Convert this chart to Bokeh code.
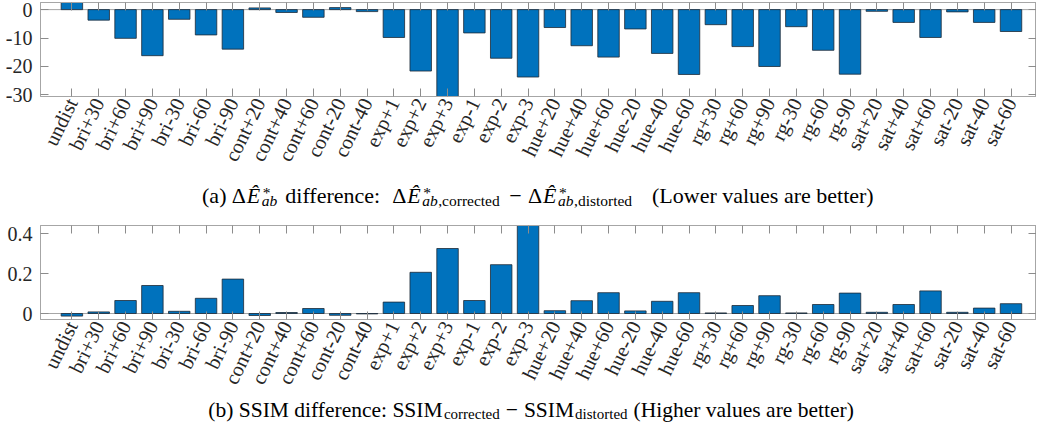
import math
from bokeh.plotting import figure
from bokeh.models import Range1d, FixedTicker, LinearAxis, Span
from bokeh.layouts import column
from bokeh.core.properties import value
from bokeh.embed import file_html
from bokeh.resources import INLINE

categories = ["undist", "bri+30", "bri+60", "bri+90", "bri-30", "bri-60", "bri-90",
              "cont+20", "cont+40", "cont+60", "cont-20", "cont-40",
              "exp+1", "exp+2", "exp+3", "exp-1", "exp-2", "exp-3",
              "hue+20", "hue+40", "hue+60", "hue-20", "hue-40", "hue-60",
              "rg+30", "rg+60", "rg+90", "rg-30", "rg-60", "rg-90",
              "sat+20", "sat+40", "sat+60", "sat-20", "sat-40", "sat-60"]

delta_e_diff = [2.7, -3.7, -10.1, -16.2, -3.4, -8.9, -13.9,
                0.6, -1.0, -2.7, 0.7, -0.7,
                -9.8, -21.6, -31.0, -8.2, -17.1, -23.7,
                -6.3, -12.7, -16.7, -6.8, -15.4, -22.8,
                -5.3, -13.0, -20.0, -6.0, -14.3, -22.7,
                -0.6, -4.5, -9.8, -0.8, -4.5, -7.7]

ssim_diff = [-0.013, 0.008, 0.065, 0.140, 0.011, 0.076, 0.172,
             -0.010, 0.005, 0.025, -0.009, -0.002,
             0.057, 0.206, 0.325, 0.065, 0.244, 0.46,
             0.014, 0.064, 0.104, 0.013, 0.061, 0.104,
             0.003, 0.040, 0.089, 0.003, 0.045, 0.102,
             0.006, 0.045, 0.113, 0.006, 0.027, 0.049]

de_ticks = [-30, -20, -10, 0]
de_tick_labels = ["-30", "-20", "-10", "0"]
ssim_ticks = [0, 0.2, 0.4]
ssim_tick_labels = ["0", "0.2", "0.4"]

FONT = "Liberation Serif"
BAR = "#0072BD"
EDGE = "#1e2a36"
FRAME = "#a6a6a6"
TICK = "#8c8c8c"
LABEL = "#262626"
W = 1036
LEFT = 40
LABEL_ANGLE = math.radians(64)


def hidden_axis(ticks):
    return LinearAxis(ticker=FixedTicker(ticks=ticks), major_label_text_font_size="1px",
                      major_label_text_color=None, major_label_standoff=0,
                      major_tick_in=8, major_tick_out=0, minor_tick_line_color=None,
                      major_tick_line_color=TICK, axis_line_color=FRAME)


def panel(vals, yrange, ticks, tick_labels, height, border_top, border_bottom):
    xs = list(range(len(categories)))
    p = figure(width=W, height=height, x_range=Range1d(-1.17, 35.95),
               y_range=Range1d(*yrange), toolbar_location=None, tools="",
               output_backend="svg", min_border_left=LEFT, min_border_right=0,
               min_border_top=border_top, min_border_bottom=border_bottom)
    p.grid.visible = False
    p.outline_line_color = FRAME
    p.outline_line_width = 1
    p.add_layout(Span(location=0, dimension="width", line_color=FRAME,
                      line_width=1, level="underlay"))
    p.vbar(x=xs, top=vals, bottom=0, width=0.8, fill_color=BAR,
           line_color=EDGE, line_width=0.8)

    xa = p.xaxis[0]
    xa.ticker = FixedTicker(ticks=xs)
    xa.major_label_overrides = {i: c for i, c in enumerate(categories)}
    xa.major_label_orientation = LABEL_ANGLE
    xa.major_label_text_font = FONT
    xa.major_label_text_font_size = "20.5px"
    xa.major_label_text_color = LABEL
    xa.major_label_standoff = 3
    xa.major_tick_in = 8
    xa.major_tick_out = 0
    xa.minor_tick_line_color = None
    xa.major_tick_line_color = TICK
    xa.axis_line_color = FRAME

    ya = p.yaxis[0]
    ya.ticker = FixedTicker(ticks=ticks)
    ya.major_label_overrides = {t: l for t, l in zip(ticks, tick_labels)}
    ya.major_label_text_font = FONT
    ya.major_label_text_font_size = "20px"
    ya.major_label_text_color = LABEL
    ya.major_label_standoff = 8
    ya.major_tick_in = 8
    ya.major_tick_out = 0
    ya.minor_tick_line_color = None
    ya.major_tick_line_color = TICK
    ya.axis_line_color = FRAME

    p.add_layout(hidden_axis(xs), "above")
    p.add_layout(hidden_axis(ticks), "right")
    return p


# Times / Liberation Serif advance widths (per 1000 em)
AFM = {' ': 250, '(': 333, ')': 333, '*': 500, '+': 564, ',': 250, '-': 333, '.': 250,
       ':': 278, '\u2212': 564, '\u0394': 612, '\u00ca': 611,
       'A': 722, 'B': 667, 'C': 667, 'D': 722, 'E': 611, 'H': 722, 'I': 333, 'L': 611,
       'M': 889, 'S': 556,
       'a': 444, 'b': 500, 'c': 444, 'd': 500, 'e': 444, 'f': 333, 'g': 500, 'h': 500,
       'i': 278, 'l': 278, 'n': 500, 'o': 500, 'r': 333, 's': 389, 't': 278, 'u': 500,
       'v': 500, 'w': 722}
AFM_IT = {'a': 500, 'b': 500}


def tw(s, size, italic=False):
    tab = dict(AFM)
    if italic:
        tab.update(AFM_IT)
    return sum(tab.get(ch, 500) for ch in s) * size / 1000.0


def mapx(xref):
    # reference frame 45..1050 -> this frame LEFT..W (picture pixels)
    return LEFT + (xref - 45) * (W - LEFT) / 1005.0


def caption_fig(height, pieces):
    # frame aligned with the panels' frames, data x == picture x
    c = figure(width=W, height=height, x_range=Range1d(LEFT, W), y_range=Range1d(0, height),
               toolbar_location=None, tools="", output_backend="svg",
               x_axis_location=None, y_axis_location=None, min_border=0,
               min_border_left=LEFT, min_border_right=0)
    c.grid.visible = False
    c.outline_line_color = None
    for (x, y, txt, size, style) in pieces:
        c.text(x=[x], y=[y], text=[txt], text_font=value(FONT),
               text_font_size=value(f"{size}px"), text_font_style=value(style),
               text_align="left", text_baseline="alphabetic", text_color="#000000")
    return c


BIG, SMALL = 22, 15.5


def delta_group(x0, yb, tail):
    out = [(x0, yb, "\u0394", BIG, "normal")]
    xe = x0 + tw("\u0394", BIG) + 1.5
    out.append((xe, yb, "\u00ca", BIG, "italic"))
    xs = xe + tw("\u00ca", BIG) + 1.5
    out.append((xs + 1, yb + 3, "*", SMALL, "normal"))
    out.append((xs, yb - 5, "ab", SMALL, "italic"))
    if tail:
        out.append((xs + tw("ab", SMALL, True) + 0.5, yb - 5, tail, SMALL, "normal"))
    return out


# caption (a)
ya_base = 23
cap_a_pieces = [(mapx(208), ya_base, "(a)", BIG, "normal")]
cap_a_pieces += delta_group(mapx(238), ya_base, "")
cap_a_pieces.append((mapx(292), ya_base, "difference:", BIG, "normal"))
cap_a_pieces += delta_group(mapx(400), ya_base, ",corrected")
cap_a_pieces.append((mapx(518), ya_base, "\u2212", BIG, "normal"))
cap_a_pieces += delta_group(mapx(537), ya_base, ",distorted")
cap_a_pieces.append((mapx(662), ya_base, "(Lower values are better)", BIG, "normal"))

# caption (b): (text, size, baseline shift, extra gap after)
BIGB, SMALLB = 21.5, 15
b_parts = [("(b) SSIM difference: SSIM", BIGB, 0, 1),
           ("corrected", SMALLB, -4, 6),
           ("\u2212", BIGB, 0, 6),
           ("SSIM", BIGB, 0, 1),
           ("distorted", SMALLB, -4, 6),
           ("(Higher values are better)", BIGB, 0, 0)]
total_b = sum(tw(t, s) + g for t, s, _, g in b_parts)
xb = mapx(540) - total_b / 2
yb_base = 13
cap_b_pieces = []
for t, s, dy, g in b_parts:
    cap_b_pieces.append((xb, yb_base + dy, t, s, "normal"))
    xb += tw(t, s) + g

pa = panel(delta_e_diff, (-30.55, 2.5), de_ticks, de_tick_labels, 176, 2, 80)
ca = caption_fig(42, cap_a_pieces)
pb = panel(ssim_diff, (-0.03, 0.44), ssim_ticks, ssim_tick_labels, 179, 7, 78)
cb = caption_fig(25, cap_b_pieces)

layout = column(pa, ca, pb, cb, spacing=0)
open("out.html", "w").write(file_html(layout, INLINE))
